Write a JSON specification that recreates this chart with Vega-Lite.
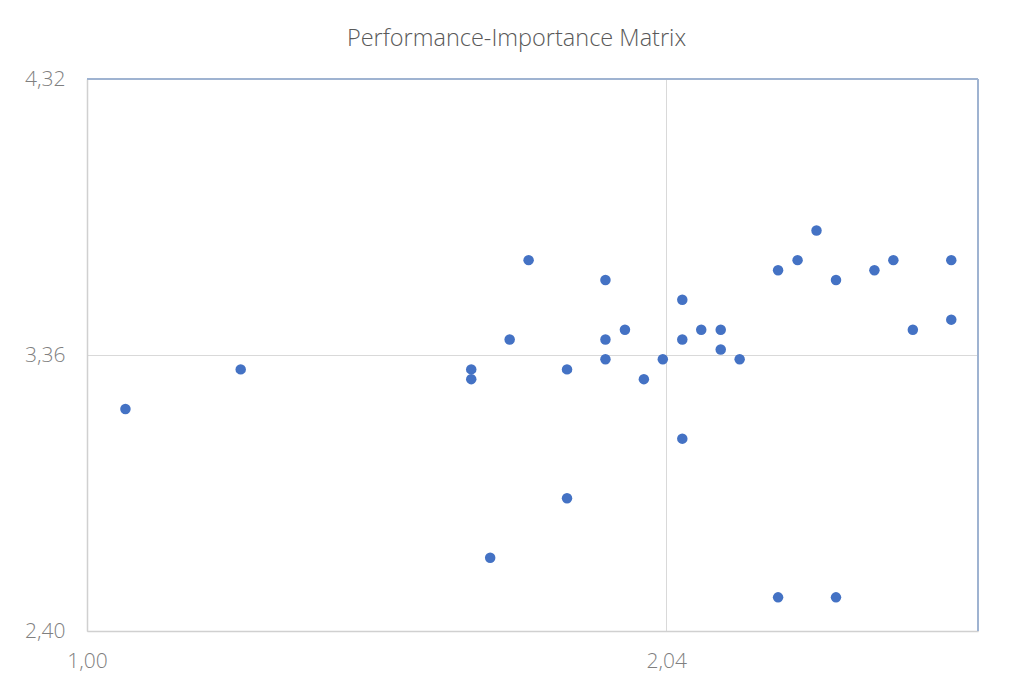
{
  "$schema": "https://vega.github.io/schema/vega-lite/v6.json",
  "width": 891,
  "height": 552,
  "autosize": {"type": "none"},
  "padding": {"left": 87, "top": 79, "right": 32, "bottom": 52},
  "background": "white",
  "title": {
    "text": "Performance-Importance Matrix",
    "fontSize": 23.5,
    "font": "Open Sans",
    "fontWeight": 300,
    "color": "#595959",
    "anchor": "middle",
    "offset": 18,
    "dx": -16
  },
  "config": {
    "view": {"stroke": null},
    "axis": {
      "labelFont": "Open Sans",
      "labelFontWeight": 300,
      "labelColor": "#7f7f7f",
      "labelFontSize": 21,
      "ticks": false,
      "title": null,
      "labelFlush": false,
      "domainColor": "#d0d0d0",
      "domainWidth": 1.5,
      "gridColor": "#d9d9d9",
      "gridWidth": 1
    }
  },
  "data": {
    "values": [
      {"performance": 1.069, "importance": 3.172},
      {"performance": 1.276, "importance": 3.310},
      {"performance": 1.690, "importance": 3.310},
      {"performance": 1.690, "importance": 3.276},
      {"performance": 1.759, "importance": 3.414},
      {"performance": 1.724, "importance": 2.655},
      {"performance": 1.793, "importance": 3.690},
      {"performance": 1.931, "importance": 3.621},
      {"performance": 1.966, "importance": 3.448},
      {"performance": 1.931, "importance": 3.414},
      {"performance": 1.931, "importance": 3.345},
      {"performance": 1.862, "importance": 3.310},
      {"performance": 2.000, "importance": 3.276},
      {"performance": 2.034, "importance": 3.345},
      {"performance": 2.069, "importance": 3.552},
      {"performance": 2.069, "importance": 3.414},
      {"performance": 2.103, "importance": 3.448},
      {"performance": 2.138, "importance": 3.448},
      {"performance": 2.138, "importance": 3.379},
      {"performance": 2.172, "importance": 3.345},
      {"performance": 2.069, "importance": 3.069},
      {"performance": 1.862, "importance": 2.862},
      {"performance": 2.241, "importance": 3.655},
      {"performance": 2.276, "importance": 3.690},
      {"performance": 2.310, "importance": 3.793},
      {"performance": 2.345, "importance": 3.621},
      {"performance": 2.414, "importance": 3.655},
      {"performance": 2.448, "importance": 3.690},
      {"performance": 2.552, "importance": 3.690},
      {"performance": 2.483, "importance": 3.448},
      {"performance": 2.552, "importance": 3.483},
      {"performance": 2.241, "importance": 2.517},
      {"performance": 2.345, "importance": 2.517}
    ]
  },
  "layer": [
    {
      "mark": {"type": "rule", "color": "#9fb3d1", "strokeWidth": 1.5},
      "encoding": {"y": {"datum": 4.32, "type": "quantitative", "scale": {"domain": [2.40, 4.32], "nice": false, "zero": false}}}
    },
    {
      "mark": {"type": "rule", "color": "#9fb3d1", "strokeWidth": 1.5},
      "encoding": {"x": {"datum": 2.60, "type": "quantitative", "scale": {"domain": [1.00, 2.60], "nice": false, "zero": false}}}
    },
    {
      "mark": {"type": "point", "filled": true, "opacity": 1, "size": 110, "color": "#4472c4"},
      "encoding": {
        "x": {
          "field": "performance",
          "type": "quantitative",
          "scale": {"domain": [1.00, 2.60], "nice": false, "zero": false},
          "axis": {
            "values": [1.00, 2.04],
            "labelExpr": "replace(format(datum.value, '.2f'), '.', ',')",
            "labelPadding": 19,
            "grid": true
          }
        },
        "y": {
          "field": "importance",
          "type": "quantitative",
          "scale": {"domain": [2.40, 4.32], "nice": false, "zero": false},
          "axis": {
            "values": [2.40, 3.36, 4.32],
            "labelExpr": "replace(format(datum.value, '.2f'), '.', ',')",
            "labelPadding": 22,
            "grid": true
          }
        }
      }
    }
  ]
}
